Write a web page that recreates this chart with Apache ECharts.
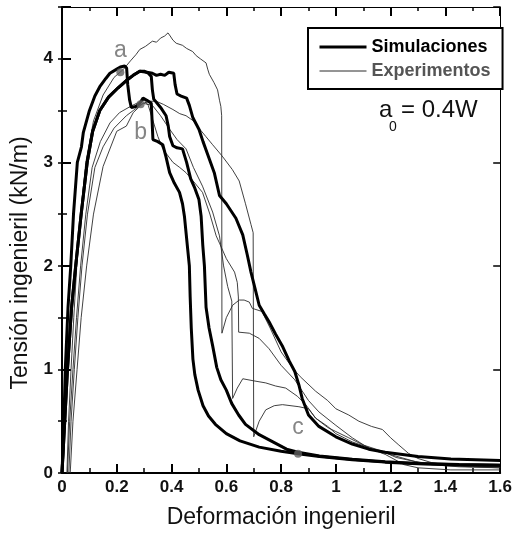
<!DOCTYPE html>
<html><head><meta charset="utf-8">
<script src="https://cdn.jsdelivr.net/npm/echarts@6/dist/echarts.min.js"></script>
<style>html,body{margin:0;padding:0;background:#fff}#c{width:515px;height:534px}</style>
</head><body><div id="c"></div>
<script>
// Simulation curves (thick)
const sim1 = [[0,0],[0.006,0.4],[0.012,1.0],[0.022,1.6],[0.032,2.0],[0.042,2.5],[0.056,3.0],[0.071,3.15],[0.078,3.29],[0.099,3.49],[0.12,3.64],[0.138,3.73],[0.16,3.81],[0.175,3.86],[0.2,3.9],[0.213,3.92],[0.229,3.93],[0.236,3.91],[0.24,3.75],[0.247,3.6],[0.253,3.53],[0.27,3.54],[0.284,3.57],[0.296,3.62],[0.31,3.6],[0.326,3.57],[0.329,3.4],[0.332,3.22],[0.35,3.2],[0.368,3.17],[0.38,3.05],[0.393,2.9],[0.41,2.8],[0.429,2.71],[0.44,2.6],[0.447,2.48],[0.459,2.16],[0.465,2.0],[0.468,1.7],[0.472,1.4],[0.478,1.1],[0.485,0.95],[0.497,0.8],[0.515,0.65],[0.535,0.55],[0.56,0.47],[0.6,0.38],[0.65,0.31],[0.72,0.25],[0.8,0.21],[0.862,0.186],[0.94,0.16],[1.06,0.128],[1.18,0.105],[1.3,0.09],[1.45,0.08],[1.6,0.074]];
const sim2 = [[0,0],[0.008,0.4],[0.02,1.0],[0.035,1.6],[0.05,2.0],[0.07,2.5],[0.092,3.0],[0.112,3.3],[0.138,3.5],[0.17,3.63],[0.205,3.72],[0.235,3.79],[0.26,3.84],[0.284,3.88],[0.3,3.88],[0.315,3.86],[0.326,3.83],[0.33,3.7],[0.335,3.61],[0.36,3.53],[0.38,3.45],[0.388,3.35],[0.393,3.25],[0.405,3.16],[0.42,3.14],[0.44,3.13],[0.455,3.0],[0.47,2.84],[0.485,2.75],[0.5,2.64],[0.508,2.48],[0.514,2.2],[0.52,2.0],[0.526,1.6],[0.537,1.4],[0.55,1.23],[0.565,1.02],[0.58,0.9],[0.6,0.8],[0.62,0.67],[0.645,0.56],[0.67,0.47],[0.72,0.37],[0.77,0.3],[0.82,0.23],[0.862,0.2],[0.94,0.165],[1.06,0.132],[1.18,0.108],[1.3,0.092],[1.45,0.082],[1.6,0.076]];
const sim3 = [[0,0],[0.008,0.4],[0.02,1.0],[0.035,1.6],[0.05,2.0],[0.07,2.5],[0.092,3.0],[0.112,3.3],[0.138,3.5],[0.17,3.63],[0.205,3.72],[0.235,3.79],[0.26,3.84],[0.284,3.88],[0.31,3.87],[0.33,3.86],[0.345,3.84],[0.36,3.85],[0.375,3.84],[0.39,3.87],[0.408,3.86],[0.413,3.75],[0.42,3.66],[0.435,3.64],[0.455,3.62],[0.465,3.55],[0.478,3.43],[0.5,3.32],[0.515,3.2],[0.53,3.09],[0.556,2.9],[0.575,2.68],[0.6,2.6],[0.635,2.46],[0.66,2.3],[0.677,2.1],[0.69,1.94],[0.705,1.78],[0.72,1.62],[0.74,1.53],[0.756,1.46],[0.78,1.34],[0.804,1.23],[0.83,1.08],[0.85,0.98],[0.865,0.85],[0.877,0.72],[0.9,0.56],[0.938,0.45],[1.0,0.35],[1.06,0.28],[1.12,0.23],[1.18,0.2],[1.3,0.16],[1.42,0.135],[1.6,0.12]];
// Experiment curves (thin)
const exp1 = [[0.018,0],[0.024,0.5],[0.033,1.0],[0.043,1.5],[0.054,2.0],[0.068,2.5],[0.087,3.0],[0.115,3.4],[0.15,3.65],[0.19,3.82],[0.225,3.9],[0.25,3.98],[0.27,4.04],[0.284,4.09],[0.305,4.12],[0.33,4.17],[0.345,4.16],[0.36,4.2],[0.375,4.22],[0.387,4.25],[0.395,4.22],[0.405,4.18],[0.417,4.15],[0.44,4.13],[0.455,4.1],[0.477,4.07],[0.49,4.03],[0.505,4.0],[0.526,3.96],[0.532,3.9],[0.538,3.85],[0.555,3.77],[0.568,3.7],[0.575,3.6],[0.58,3.54],[0.583,3.45],[0.584,1.35],[0.6,1.5],[0.623,1.62],[0.647,1.67],[0.665,1.67],[0.684,1.65],[0.695,1.59],[0.73,1.56],[0.76,1.4],[0.8,1.17],[0.84,1.02],[0.87,0.93],[0.926,0.79],[0.97,0.7],[1.0,0.62],[1.047,0.56],[1.084,0.5],[1.13,0.45],[1.17,0.42],[1.2,0.34],[1.23,0.27],[1.265,0.19],[1.3,0.14],[1.35,0.1],[1.4,0.08],[1.5,0.065],[1.6,0.06]];
const exp2 = [[0.025,0],[0.033,0.5],[0.045,1.0],[0.058,1.5],[0.073,2.0],[0.093,2.5],[0.12,2.95],[0.15,3.15],[0.19,3.33],[0.235,3.45],[0.26,3.5],[0.296,3.57],[0.32,3.59],[0.344,3.59],[0.37,3.56],[0.405,3.51],[0.43,3.47],[0.453,3.45],[0.48,3.4],[0.5,3.33],[0.525,3.25],[0.55,3.17],[0.585,3.06],[0.622,2.93],[0.647,2.82],[0.67,2.6],[0.69,2.4],[0.698,2.32],[0.7,0.35],[0.72,0.5],[0.744,0.61],[0.775,0.65],[0.805,0.66],[0.865,0.64],[0.9,0.62],[0.926,0.53],[0.97,0.44],[1.0,0.4],[1.047,0.34],[1.1,0.27],[1.17,0.21],[1.22,0.15],[1.29,0.11],[1.35,0.08],[1.45,0.06],[1.6,0.05]];
const exp3 = [[0.02,0],[0.028,0.5],[0.04,1.0],[0.053,1.5],[0.068,2.0],[0.087,2.5],[0.11,2.95],[0.14,3.2],[0.175,3.38],[0.21,3.48],[0.25,3.54],[0.28,3.58],[0.3,3.6],[0.315,3.55],[0.33,3.42],[0.35,3.25],[0.368,3.13],[0.405,3.0],[0.43,2.95],[0.453,2.9],[0.485,2.8],[0.513,2.71],[0.54,2.5],[0.563,2.29],[0.575,2.22],[0.6,2.07],[0.63,1.94],[0.64,1.84],[0.644,1.7],[0.645,1.36],[0.684,1.35],[0.72,1.3],[0.756,1.2],[0.8,1.04],[0.85,0.9],[0.9,0.7],[0.938,0.59],[1.0,0.46],[1.06,0.34],[1.12,0.24],[1.18,0.18],[1.25,0.08],[1.3,0.05],[1.42,0.03],[1.6,0.03]];
const exp4 = [[0.03,0],[0.04,0.5],[0.055,1.0],[0.07,1.5],[0.09,2.0],[0.115,2.5],[0.15,2.96],[0.2,3.3],[0.235,3.35],[0.26,3.48],[0.296,3.57],[0.33,3.55],[0.36,3.45],[0.393,3.32],[0.42,3.22],[0.453,3.13],[0.48,2.95],[0.513,2.77],[0.55,2.52],[0.575,2.29],[0.59,2.0],[0.605,1.8],[0.62,1.66],[0.623,0.72],[0.64,0.82],[0.66,0.91],[0.7,0.89],[0.744,0.87],[0.78,0.84],[0.817,0.82],[0.86,0.74],[0.89,0.66],[0.926,0.53],[0.97,0.45],[1.0,0.38],[1.06,0.3],[1.17,0.2],[1.29,0.11],[1.4,0.07],[1.6,0.05]];
// Marked stages
const markNames = ['a','b','c'];
const markPoints = [[0.213,3.87],[0.287,3.56],[0.862,0.186]];

const FONT = '"Liberation Sans", Arial, Helvetica, sans-serif';
const chart = echarts.init(document.getElementById('c'), null, {renderer:'canvas'});

function fmtX(v){ return String(Math.round(v*10)/10); }
function fmtY(v){ return Math.abs(v - Math.round(v)) < 1e-6 ? String(Math.round(v)) : ''; }

const expStyle = {color:'#2b2b2b', width:0.9};
const simStyle = {color:'#000', width:3};
function lineSeries(name, data, style, z){
  return {name, type:'line', data, showSymbol:false, symbol:'none', lineStyle:style, itemStyle:{color:style.color}, z, animation:false, clip:true};
}
const labelPlace = [{position:'top', distance:6},{position:'bottom', distance:13},{position:'top', distance:11}];

const option = {
  animation:false,
  backgroundColor:'#fff',
  grid:{left:62, right:13, top:7, bottom:59, containLabel:false},
  legend:{
    orient:'vertical', left:308, top:28,
    padding:[9,12,8,10], itemGap:4, itemWidth:47, itemHeight:20,
    borderColor:'#000', borderWidth:2, borderRadius:0, backgroundColor:'#fff',
    itemStyle:{opacity:0},
    textStyle:{fontFamily:FONT, fontSize:18, fontWeight:'bold', lineHeight:20},
    data:[{name:'Simulaciones', textStyle:{color:'#000'}, lineStyle:{width:3, color:'#000'}},
          {name:'Experimentos', textStyle:{color:'#555'}, lineStyle:{width:1, color:'#2b2b2b'}}]
  },
  xAxis:[
    {type:'value', min:0, max:1.6, interval:0.2, position:'bottom',
     name:'Deformación ingenieril', nameLocation:'middle', nameGap:33,
     nameTextStyle:{fontFamily:FONT, fontSize:23, color:'#111'},
     axisLine:{show:true, onZero:false, lineStyle:{color:'#000', width:2}},
     axisTick:{show:true, inside:true, length:9, lineStyle:{color:'#000', width:2}},
     minorTick:{show:true, splitNumber:2, length:5, lineStyle:{color:'#000', width:1.5}},
     splitLine:{show:false},
     axisLabel:{formatter:fmtX, fontFamily:FONT, fontSize:17, fontWeight:'bold', color:'#111', margin:6}},
    {type:'value', min:0, max:1.6, interval:0.2, position:'top',
     axisLine:{show:true, onZero:false, lineStyle:{color:'#000', width:1}},
     axisTick:{show:true, inside:true, length:9, lineStyle:{color:'#000', width:2}},
     minorTick:{show:true, splitNumber:2, length:4, lineStyle:{color:'#000', width:1.5}},
     splitLine:{show:false}, axisLabel:{show:false}}
  ],
  yAxis:[
    {type:'value', min:0, max:4.5, interval:1, position:'left',
     axisLine:{show:true, onZero:false, lineStyle:{color:'#000', width:2}},
     axisTick:{show:true, inside:true, length:9, lineStyle:{color:'#000', width:2}},
     splitLine:{show:false},
     axisLabel:{formatter:fmtY, fontFamily:FONT, fontSize:17, fontWeight:'bold', color:'#111', margin:9}},
    {type:'value', min:0, max:4.5, interval:0.5, position:'left',
     axisLine:{show:false}, axisTick:{show:true, inside:true, length:5, lineStyle:{color:'#000', width:1.5}},
     splitLine:{show:false}, axisLabel:{show:false}},
    {type:'value', min:0, max:4.5, interval:1, position:'right',
     axisLine:{show:true, onZero:false, lineStyle:{color:'#000', width:1}},
     axisTick:{show:true, inside:true, length:7, lineStyle:{color:'#000', width:1.5}},
     splitLine:{show:false}, axisLabel:{show:false}},
    {type:'value', min:0, max:4.5, interval:0.5, position:'right',
     axisLine:{show:false}, axisTick:{show:true, inside:true, length:4, lineStyle:{color:'#000', width:1.5}},
     splitLine:{show:false}, axisLabel:{show:false}}
  ],
  series:[
    lineSeries('Experimentos', exp1, expStyle, 2),
    lineSeries('Experimentos', exp2, expStyle, 2),
    lineSeries('Experimentos', exp3, expStyle, 2),
    lineSeries('Experimentos', exp4, expStyle, 2),
    lineSeries('Simulaciones', sim1, simStyle, 3),
    lineSeries('Simulaciones', sim2, simStyle, 3),
    lineSeries('Simulaciones', sim3, simStyle, 3),
    {name:'Puntos', type:'scatter', z:4, symbol:'circle', symbolSize:8,
     itemStyle:{color:'#606060'},
     data: markPoints.map((p,i)=>({value:p, name:markNames[i],
        label:{show:true, position:labelPlace[i].position, distance:labelPlace[i].distance, formatter:markNames[i],
               fontFamily:FONT, fontSize:23, color:'#666'}}))}
  ],
  graphic:[
    {type:'text', rotation:Math.PI/2, x:21, y:263,
     style:{text:'Tensión ingenieril (kN/m)', font:'23px '+FONT, fill:'#111', align:'center', verticalAlign:'middle'}},
    {type:'text', left:379, top:98, style:{text:'a', font:'24px '+FONT, fill:'#111'}},
    {type:'text', left:389, top:120, style:{text:'0', font:'14px '+FONT, fill:'#111'}},
    {type:'text', left:401, top:98, style:{text:'= 0.4W', font:'24px '+FONT, fill:'#111'}}
  ]
};
chart.setOption(option);
</script></body></html>
